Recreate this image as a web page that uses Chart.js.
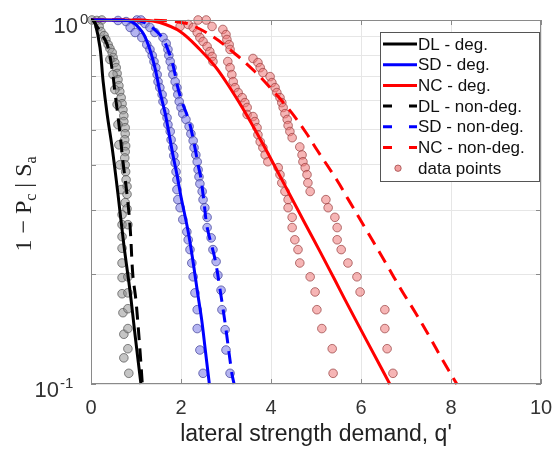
<!DOCTYPE html>
<html>
<head>
<meta charset="utf-8">
<script src="https://cdn.jsdelivr.net/npm/chart.js@4.4.0/dist/chart.umd.min.js"></script>
<style>
  html, body { margin: 0; padding: 0; background: #fff; }
  canvas { display: block; }
</style>
</head>
<body>
<canvas id="fragility" width="553" height="450"></canvas>
<script>
// fitted curves: lateral strength demand q' vs 1 - Pc|Sa
const dlDegQ = [0, 0.04, 0.09, 0.2, 0.27, 0.36, 0.47, 0.6, 0.73, 0.87, 0.98, 1.11];
const dlDegP = [1.0, 0.999, 0.984, 0.84, 0.677, 0.55, 0.446, 0.332, 0.241, 0.179, 0.136, 0.1];
const sdDegQ = [0, 0.6, 0.9, 1.13, 1.27, 1.42, 1.53, 1.64, 1.71, 1.82, 1.91, 2.0, 2.16, 2.27, 2.36, 2.46, 2.54, 2.63];
const sdDegP = [1.0, 0.999, 0.99, 0.93, 0.856, 0.74, 0.636, 0.56, 0.506, 0.426, 0.376, 0.327, 0.262, 0.216, 0.181, 0.15, 0.124, 0.1];
const ncDegQ = [0, 1.2, 1.53, 1.98, 2.42, 2.76, 3.04, 3.36, 3.62, 3.89, 4.3, 4.75, 5.09, 5.42, 5.65, 6.12, 6.64];
const ncDegP = [1.0, 0.999, 0.984, 0.93, 0.83, 0.745, 0.665, 0.575, 0.506, 0.44, 0.353, 0.277, 0.231, 0.193, 0.17, 0.132, 0.1];
const dlNonQ = [0, 0.04, 0.2, 0.36, 0.47, 0.53, 0.64, 0.71, 0.8, 0.87, 0.93, 1.0, 1.09, 1.14];
const dlNonP = [1.0, 0.999, 0.93, 0.856, 0.731, 0.636, 0.494, 0.408, 0.332, 0.269, 0.199, 0.169, 0.123, 0.1];
const sdNonQ = [0, 1.0, 1.2, 1.36, 1.58, 1.69, 1.8, 1.87, 1.93, 2.02, 2.13, 2.2, 2.31, 2.38, 2.44, 2.51, 2.58, 2.76, 2.87, 2.98, 3.13, 3.18];
const sdNonP = [1.0, 0.999, 0.984, 0.954, 0.895, 0.84, 0.769, 0.708, 0.652, 0.597, 0.55, 0.516, 0.446, 0.4, 0.369, 0.317, 0.27, 0.219, 0.181, 0.147, 0.107, 0.1];
const ncNonQ = [0, 1.31, 1.87, 2.2, 2.71, 3.22, 3.64, 4.02, 4.44, 4.78, 5.02, 5.46, 5.72, 6.08, 6.29, 6.55, 6.9, 7.21, 7.52, 7.82, 8.13];
const ncNonP = [1.0, 0.999, 0.99, 0.972, 0.9, 0.804, 0.722, 0.644, 0.56, 0.49, 0.44, 0.364, 0.321, 0.27, 0.244, 0.215, 0.181, 0.157, 0.135, 0.116, 0.1];

// data points (deg. and non-deg. sets together per limit state)
const dlPtsQ = [0.02, 0.13, 0.24, 0.18, 0.22, 0.29, 0.33, 0.38, 0.42, 0.47, 0.49, 0.53, 0.56, 0.58, 0.6, 0.62, 0.64, 0.67, 0.69, 0.71, 0.73, 0.73, 0.76, 0.76, 0.75, 0.77, 0.76, 0.75, 0.76, 0.77, 0.78, 0.8, 0.8, 0.76, 0.8, 0.69, 0.69, 0.82, 0.69, 0.69, 0.69, 0.69, 0.82, 0.69, 0.82, 0.71, 0.82, 0.73, 0.82, 0.82, 0.73, 0.84,
  0.42, 0.49, 0.53, 0.58, 0.6, 0.62, 0.64, 0.67];
const dlPtsP = [1.0, 0.997, 1.0, 0.96, 0.93, 0.906, 0.884, 0.856, 0.835, 0.814, 0.789, 0.764, 0.74, 0.713, 0.686, 0.66, 0.636, 0.612, 0.589, 0.567, 0.546, 0.526, 0.506, 0.487, 0.469, 0.451, 0.435, 0.418, 0.4, 0.383, 0.364, 0.349, 0.332, 0.315, 0.303, 0.292, 0.274, 0.274, 0.254, 0.236, 0.215, 0.196, 0.197, 0.177, 0.178, 0.157, 0.161, 0.137, 0.142, 0.125, 0.118, 0.107,
  0.779, 0.708, 0.644, 0.586, 0.516, 0.454, 0.4, 0.342];
const sdPtsQ = [0.6, 0.78, 0.87, 1.02, 0.98, 1.13, 1.24, 1.31, 1.36, 1.4, 1.44, 1.47, 1.49, 1.53, 1.58, 1.6, 1.64, 1.69, 1.71, 1.76, 1.78, 1.82, 1.84, 1.87, 1.89, 1.91, 1.91, 1.93, 1.98, 2.04, 2.13, 2.16, 2.2, 2.24, 2.27, 2.31, 2.36, 2.36, 2.42, 2.49,
  1.11, 1.2, 1.31, 1.42, 1.6, 1.67, 1.71, 1.73, 1.76, 1.8, 1.82, 1.87, 1.91, 1.93, 1.96, 2.0, 2.04, 2.11, 2.18, 2.22, 2.27, 2.29, 2.33, 2.36, 2.38, 2.4, 2.42, 2.47, 2.49, 2.53, 2.58, 2.58, 2.67, 2.71, 2.78, 2.82, 2.89, 2.91, 2.98, 3.0, 3.09];
const sdPtsP = [0.997, 0.99, 0.954, 1.0, 0.924, 0.895, 0.856, 0.83, 0.799, 0.769, 0.74, 0.708, 0.677, 0.652, 0.624, 0.597, 0.56, 0.539, 0.516, 0.494, 0.469, 0.446, 0.424, 0.405, 0.383, 0.364, 0.342, 0.321, 0.305, 0.283, 0.262, 0.249, 0.234, 0.215, 0.197, 0.178, 0.16, 0.142, 0.124, 0.107,
  1.0, 0.978, 0.954, 0.924, 0.895, 0.862, 0.83, 0.799, 0.769, 0.74, 0.708, 0.677, 0.652, 0.624, 0.597, 0.575, 0.553, 0.533, 0.51, 0.487, 0.466, 0.446, 0.426, 0.408, 0.388, 0.371, 0.355, 0.338, 0.321, 0.305, 0.287, 0.269, 0.252, 0.234, 0.217, 0.199, 0.181, 0.16, 0.141, 0.124, 0.107];
const ncPtsQ = [1.98, 2.16, 2.27, 2.38, 2.36, 2.42, 2.49, 2.58, 2.64, 2.69, 2.71, 3.04, 3.09, 3.13, 3.16, 3.2, 3.27, 3.36, 3.42, 3.47, 3.47, 3.6, 3.64, 3.69, 3.71, 3.76, 3.82, 3.87, 3.93, 4.16, 4.2, 4.24, 4.31, 4.38, 4.38, 4.47, 4.47, 4.53, 4.6, 4.64, 4.87, 4.98, 5.02, 5.13, 5.36, 5.38,
  2.56, 2.69, 2.93, 3.0, 3.02, 3.07, 3.09, 3.6, 3.71, 3.76, 3.82, 3.98, 4.02, 4.09, 4.13, 4.2, 4.24, 4.27, 4.31, 4.36, 4.38, 4.42, 4.47, 4.64, 4.69, 4.71, 4.76, 4.8, 4.82, 4.87, 5.22, 5.27, 5.42, 5.47, 5.47, 5.56, 5.71, 5.91, 5.98, 6.53, 6.53, 6.58, 6.71];
const ncPtsP = [0.96, 0.972, 0.954, 1.0, 0.924, 0.895, 0.873, 0.846, 0.819, 0.794, 0.769, 0.769, 0.74, 0.708, 0.677, 0.652, 0.632, 0.612, 0.593, 0.575, 0.55, 0.543, 0.526, 0.506, 0.484, 0.463, 0.446, 0.426, 0.408, 0.393, 0.376, 0.357, 0.338, 0.321, 0.305, 0.287, 0.269, 0.249, 0.234, 0.215, 0.197, 0.179, 0.16, 0.142, 0.125, 0.107,
  1.0, 0.96, 0.942, 0.912, 0.884, 0.856, 0.83, 0.784, 0.764, 0.74, 0.717, 0.699, 0.673, 0.652, 0.632, 0.612, 0.593, 0.575, 0.553, 0.533, 0.513, 0.494, 0.475, 0.448, 0.426, 0.408, 0.393, 0.376, 0.357, 0.338, 0.321, 0.305, 0.287, 0.269, 0.249, 0.234, 0.215, 0.197, 0.179, 0.16, 0.142, 0.125, 0.107];

const xTicks = [0, 2, 4, 6, 8, 10];
const yGrid = [0.1, 0.2, 0.3, 0.4, 0.5, 0.6, 0.7, 0.8, 0.9, 1];
const legendLabels = ['DL - deg.', 'SD - deg.', 'NC - deg.', 'DL - non-deg.', 'SD - non-deg.', 'NC - non-deg.', 'data points'];

const SANS = '"Liberation Sans", Arial, sans-serif';
const toXY = (qs, ps) => qs.map((q, i) => ({ x: q, y: ps[i] }));

const curve = (label, qs, ps, color, dashed) => ({
  type: 'line', label, data: toXY(qs, ps), borderColor: color, borderWidth: 3,
  borderDash: dashed ? [13, 8] : [], pointRadius: 0, fill: false,
  tension: 0.35, clip: false, order: 0
});
const dots = (label, qs, ps, fill, edge) => ({
  type: 'scatter', label, data: toXY(qs, ps), showLine: false,
  pointRadius: 4.3, pointBackgroundColor: fill, pointBorderColor: edge,
  pointBorderWidth: 1, clip: false, order: 1
});

const datasets = [
  curve('DL - deg.', dlDegQ, dlDegP, '#000000', false),
  curve('SD - deg.', sdDegQ, sdDegP, '#0000ff', false),
  curve('NC - deg.', ncDegQ, ncDegP, '#ff0000', false),
  curve('DL - non-deg.', dlNonQ, dlNonP, '#000000', true),
  curve('SD - non-deg.', sdNonQ, sdNonP, '#0000ff', true),
  curve('NC - non-deg.', ncNonQ, ncNonP, '#ff0000', true),
  dots('DL points', dlPtsQ, dlPtsP, 'rgba(150,150,150,0.55)', 'rgba(80,80,80,0.7)'),
  dots('SD points', sdPtsQ, sdPtsP, 'rgba(120,120,230,0.55)', 'rgba(60,60,150,0.7)'),
  dots('NC points', ncPtsQ, ncPtsP, 'rgba(238,120,120,0.55)', 'rgba(150,60,60,0.7)')
];

// box, inner ticks, y labels, y title, legend
const decorations = {
  id: 'decorations',
  afterDraw(chart) {
    const { ctx, chartArea: a, scales: { x, y } } = chart;
    ctx.save();
    ctx.strokeStyle = '#8a8a8a';
    ctx.lineWidth = 1;
    ctx.strokeRect(a.left + 0.5, a.top + 0.5, a.width - 1, a.height - 1);

    ctx.beginPath();
    xTicks.forEach(v => {
      const px = Math.round(x.getPixelForValue(v)) + 0.5;
      ctx.moveTo(px, a.bottom); ctx.lineTo(px, a.bottom - 5);
      ctx.moveTo(px, a.top); ctx.lineTo(px, a.top + 5);
    });
    yGrid.forEach(v => {
      const py = Math.round(y.getPixelForValue(v)) + 0.5;
      ctx.moveTo(a.left, py); ctx.lineTo(a.left + 5, py);
      ctx.moveTo(a.right, py); ctx.lineTo(a.right - 5, py);
    });
    ctx.stroke();

    // y tick labels 10^0 and 10^-1
    ctx.fillStyle = '#333';
    ctx.textBaseline = 'alphabetic';
    const pTop = y.getPixelForValue(1);
    const pBot = y.getPixelForValue(0.1);
    ctx.font = '22px ' + SANS;
    ctx.textAlign = 'right';
    ctx.fillText('10', 78, pTop + 13);
    ctx.fillText('10', 59, pBot + 13);
    ctx.font = '15px ' + SANS;
    ctx.textAlign = 'left';
    ctx.fillText('0', 80, pTop + 4);
    ctx.fillText('-1', 60, pBot + 4);

    // y axis title
    ctx.save();
    ctx.translate(31, (a.top + a.bottom) / 2 + 2);
    ctx.rotate(-Math.PI / 2);
    const parts = [['1 \u2212 P', 24, 0], ['c', 16, 5], [' | S', 24, 0], ['a', 16, 5]];
    let total = 0;
    parts.forEach(p => { ctx.font = p[1] + 'px "Liberation Serif", "Times New Roman", serif'; total += ctx.measureText(p[0]).width; });
    let cx = -total / 2;
    ctx.fillStyle = '#222';
    parts.forEach(p => {
      ctx.font = p[1] + 'px "Liberation Serif", "Times New Roman", serif';
      ctx.fillText(p[0], cx, p[2]);
      cx += ctx.measureText(p[0]).width;
    });
    ctx.restore();

    // legend
    const lx = 380, ly = 32, lw = 160, lh = 150;
    ctx.fillStyle = '#fff';
    ctx.fillRect(lx, ly, lw, lh);
    ctx.strokeStyle = '#555';
    ctx.lineWidth = 1;
    ctx.strokeRect(lx + 0.5, ly + 0.5, lw - 1, lh - 1);
    ctx.font = '17px ' + SANS;
    ctx.textAlign = 'left';
    ctx.textBaseline = 'middle';
    legendLabels.forEach((label, i) => {
      const ry = 44 + i * 20.7;
      if (i < 6) {
        const ds = datasets[i];
        ctx.strokeStyle = ds.borderColor;
        ctx.lineWidth = 3;
        ctx.setLineDash(ds.borderDash.length ? [9, 17] : []);
        ctx.beginPath();
        ctx.moveTo(383, ry); ctx.lineTo(417, ry);
        ctx.stroke();
        ctx.setLineDash([]);
      } else {
        ctx.beginPath();
        ctx.arc(398, ry, 3.2, 0, Math.PI * 2);
        ctx.fillStyle = 'rgba(238,120,120,0.7)';
        ctx.fill();
        ctx.lineWidth = 1;
        ctx.strokeStyle = 'rgba(150,60,60,0.7)';
        ctx.stroke();
      }
      ctx.fillStyle = '#111';
      ctx.fillText(label, 418, ry + 1);
    });
    ctx.restore();
  }
};

new Chart(document.getElementById('fragility'), {
  type: 'scatter',
  data: { datasets },
  options: {
    responsive: false,
    animation: false,
    devicePixelRatio: 1,
    layout: { padding: { top: 20, right: 12, left: 0, bottom: 0 } },
    plugins: { legend: { display: false }, tooltip: { enabled: false } },
    scales: {
      x: {
        type: 'linear', min: 0, max: 10,
        afterBuildTicks: s => { s.ticks = xTicks.map(v => ({ value: v })); },
        afterFit: s => { s.height = 66; s.paddingLeft = 0; s.paddingRight = 0; },
        ticks: { color: '#333', font: { size: 20, family: SANS }, padding: 12 },
        grid: { color: '#e6e6e6', drawTicks: false },
        border: { display: false },
        title: { display: true, text: "lateral strength demand, q'", color: '#222', font: { size: 23, family: SANS }, padding: { top: 0, bottom: 2 } }
      },
      y: {
        type: 'logarithmic', min: 0.1, max: 1,
        afterBuildTicks: s => { s.ticks = yGrid.map(v => ({ value: v })); },
        afterFit: s => { s.width = 91; },
        ticks: { display: false },
        grid: { color: '#e6e6e6', drawTicks: false },
        border: { display: false }
      }
    }
  },
  plugins: [decorations]
});
</script>
</body>
</html>
